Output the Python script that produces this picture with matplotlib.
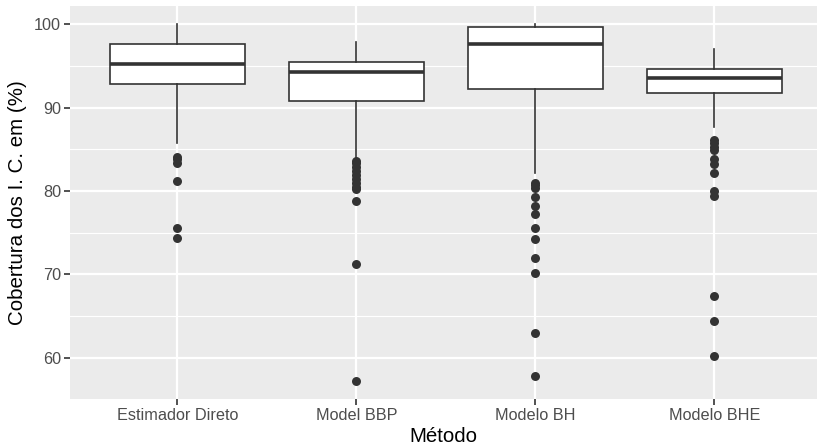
import matplotlib
matplotlib.use("Agg")
import matplotlib.pyplot as plt
from matplotlib.ticker import MultipleLocator

plt.rcParams['font.family'] = ['Liberation Sans', 'DejaVu Sans']

# valores
metodos = ["Estimador Direto", "Model BBP", "Modelo BH", "Modelo BHE"]
bigode_sup = [100.0, 97.8, 100.0, 97.0]
q3 = [97.6, 95.4, 99.6, 94.6]
mediana = [95.2, 94.2, 97.6, 93.5]
q1 = [92.8, 90.8, 92.2, 91.7]
bigode_inf = [85.8, 84.0, 82.2, 87.7]

out_direto = [84.1, 83.8, 83.4, 81.2, 75.6, 74.4]
out_bbp = [83.6, 83.3, 82.9, 82.4, 81.9, 81.4, 80.9, 80.5, 80.2, 78.8, 71.2, 57.2]
out_bh = [81.0, 80.7, 80.3, 79.25, 78.2, 77.3, 75.6, 74.2, 72.0, 70.2, 63.0, 57.85]
out_bhe = [86.1, 85.7, 85.3, 84.9, 83.8, 83.2, 82.2, 80.0, 79.4, 67.4, 64.4, 60.2]
outliers = [out_direto, out_bbp, out_bh, out_bhe]

fig = plt.figure(figsize=(8.17, 4.45), dpi=100)
ax = fig.add_axes([70/817, 1 - 399.3/445, 747/817, (399.3 - 6)/445])
ax.set_facecolor('#EBEBEB')
for s in ax.spines.values():
    s.set_visible(False)

stats = []
for i in range(len(metodos)):
    stats.append(dict(label=metodos[i], med=mediana[i], q1=q1[i], q3=q3[i],
                      whislo=bigode_inf[i], whishi=bigode_sup[i], fliers=[]))

pos = list(range(1, len(metodos) + 1))
ax.bxp(stats, positions=pos, widths=0.75, patch_artist=True, showcaps=False,
       boxprops=dict(facecolor='white', edgecolor='#333333', linewidth=1.2),
       medianprops=dict(color='#333333', linewidth=2.6),
       whiskerprops=dict(color='#333333', linewidth=1.2),
       zorder=3)

for i, pts in enumerate(outliers):
    ax.scatter([pos[i]] * len(pts), pts, s=42, color='#333333', zorder=4, linewidths=0)

ax.set_xlim(0.4, 0.4 + 747/179)
ax.set_ylim(55.05, 102.16)
ax.set_xticks(pos)
ax.set_xticklabels(metodos)
ax.yaxis.set_major_locator(MultipleLocator(10))
ax.yaxis.set_minor_locator(MultipleLocator(5))
ax.grid(which='major', color='white', linewidth=1.6, zorder=0)
ax.grid(which='minor', axis='y', color='white', linewidth=0.8, zorder=0)
ax.set_axisbelow(True)
ax.tick_params(which='major', length=4, width=1.2, color='#333333',
               labelsize=11.7, labelcolor='#4D4D4D', pad=2.5)
ax.tick_params(which='minor', length=0)

ax.set_xlabel('Método', fontsize=14.8, color='black', labelpad=3)
ax.set_ylabel('Cobertura dos I. C. em (%)', fontsize=14.8, color='black', labelpad=5)

fig.savefig('out.png', dpi=100)
